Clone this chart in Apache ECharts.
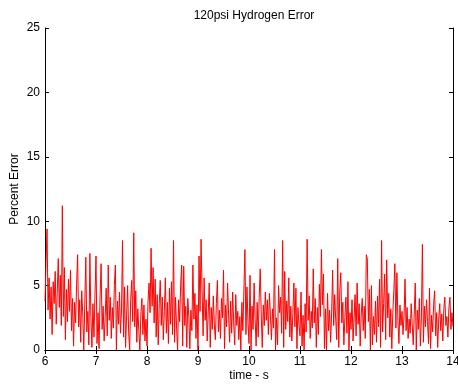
<!DOCTYPE html>
<html>
<head>
<meta charset="utf-8">
<script src="https://cdn.jsdelivr.net/npm/echarts@6/dist/echarts.min.js"></script>
<style>html,body{margin:0;padding:0;background:#fff}#c{width:458px;height:386px}</style>
</head>
<body>
<div id="c"></div>
<script>
const titleText = '120psi Hydrogen Error';
const xName = 'time - s';
const yName = 'Percent Error';
const xTicks = [6, 7, 8, 9, 10, 11, 12, 13, 14];
const yTicks = [0, 5, 10, 15, 20, 25];
const tStart = 6, tStep = 0.02;
// percent error, one value per sample (6.00 s ... 14.00 s)
const errSeg1 = [3.8,6.8,9.4,3.1,5.6,2.4,4.9,1.2,5.3,3.6,6.1,2.0,4.4,7.1,3.3,5.8,1.9,11.2,2.6,6.4,0.8,4.7,2.2,5.5,3.0];
const errSeg2 = [6.2,1.5,4.0,0.3,3.7,2.1,5.1,7.4,1.8,3.9,0.6,4.6,2.8,0.0,3.5,7.2,1.4,3.0,0.4,7.5,2.5,0.2,3.6,1.0,4.3];
const errSeg3 = [7.3,0.5,2.9,0.1,4.2,6.7,1.6,3.4,0.7,2.6,4.8,1.1,6.6,2.3,4.1,0.9,3.3,1.7,5.0,6.6,0.0,3.8,2.0,4.5,1.3];
const errSeg4 = [3.1,8.5,1.0,4.9,0.2,2.7,5.0,1.4,0.0,3.9,5.4,2.2,9.1,1.8,4.6,0.6,3.2,1.5,0.0,2.8,4.0,1.2,3.5,0.7,2.4];
const errSeg5 = [0.3,3.8,5.2,2.9,7.9,3.4,6.4,2.1,5.5,1.0,4.3,0.4,3.6,5.4,1.9,4.1,0.8,3.0,5.6,1.3,3.7,0.5,4.8,2.0,5.3];
const errSeg6 = [1.2,8.5,0.6,4.1,1.7,0.0,3.9,2.2,5.1,6.6,0.3,6.5,1.9,3.4,0.2,4.0,2.6,0.1,3.1,1.5,6.6,2.4,4.4,0.9,3.5];
const errSeg7 = [0.0,7.3,3.0,8.6,4.7,1.1,5.6,2.3,3.9,0.7,2.8,5.2,0.2,3.3,1.6,4.2,2.0,0.8,3.6,5.4,1.4,3.1,0.9,4.0,2.5];
const errSeg8 = [6.2,0.1,3.5,1.8,5.2,2.7,0.6,3.8,1.3,4.5,2.1,0.4,4.3,1.9,3.0,0.8,2.6,0.0,3.7,1.5,4.6,7.8,1.2,4.9,2.2];
const errSeg9 = [0.5,5.8,0.0,3.4,1.6,5.2,2.4,0.3,3.7,1.0,4.1,6.3,2.8,0.2,3.5,1.9,4.5,2.3,3.9,1.2,4.4,2.7,0.8,3.2,1.7];
const errSeg10 = [7.8,0.0,2.5,0.4,5.0,2.9,4.1,1.3,8.5,0.2,6.1,1.6,3.8,2.2,5.6,1.0,3.4,0.7,2.9,5.2,1.8,4.8,0.1,3.3,2.0];
const errSeg11 = [1.1,4.5,0.3,2.7,0.0,3.6,1.4,8.6,2.3,4.2,0.9,3.0,1.7,6.3,2.1,4.0,0.2,3.3,1.2,5.1,2.6,7.8,3.5,5.9,0.1];
const errSeg12 = [3.2,0.0,4.4,1.5,3.1,0.6,2.8,6.2,1.9,4.3,2.4,0.8,7.1,0.2,4.6,6.0,2.1,3.7,0.4,2.5,4.1,1.3,5.3,0.0,2.9];
const errSeg13 = [1.6,3.9,0.7,2.4,4.3,1.1,5.2,2.0,3.6,0.3,2.7,4.0,1.5,3.4,0.9,7.4,7.1,2.2,4.7,0.0,5.0,0.4,2.6,1.2,3.8];
const errSeg14 = [0.6,4.2,1.8,5.5,0.2,8.5,1.4,3.6,5.9,0.8,7.0,2.5,4.4,1.0,3.2,0.1,2.9,4.6,6.7,1.7,6.0,2.3,0.5,3.5,1.9];
const errSeg15 = [3.0,1.2,2.6,5.5,1.5,3.3,0.9,2.4,1.3,3.6,2.0,0.4,2.8,5.2,0.0,3.1,1.6,4.0,0.3,2.5,8.2,0.6,3.4,1.8,3.9];
const errSeg16 = [2.2,0.5,4.8,0.1,2.7,1.4,3.5,4.6,1.1,2.9,0.2,2.4,3.6,1.5,2.8,0.7,3.2,4.1,1.9,2.6,1.0,3.3,4.1,1.6,2.9,1.8];

const errValues = [].concat(errSeg1,errSeg2,errSeg3,errSeg4,errSeg5,errSeg6,errSeg7,errSeg8,
  errSeg9,errSeg10,errSeg11,errSeg12,errSeg13,errSeg14,errSeg15,errSeg16);
const seriesData = errValues.map((v, i) => [+(tStart + i * tStep).toFixed(2), v]);

const FONT = 'Liberation Sans';
const chart = echarts.init(document.getElementById('c'), null, {renderer: 'canvas'});
const axBase = {
  axisLine: {show: true, lineStyle: {color: '#000', width: 1}},
  axisTick: {show: true, inside: true, length: 4, lineStyle: {color: '#000'}},
  splitLine: {show: false}
};
chart.setOption({
  animation: false,
  backgroundColor: '#fff',
  title: {
    text: titleText, left: 249, top: 5, textAlign: 'center',
    textStyle: {fontFamily: FONT, fontSize: 12, fontWeight: 'normal', color: '#000'}
  },
  grid: {left: 45, right: 5, top: 28, bottom: 36, containLabel: false, outerBoundsMode: 'none'},
  xAxis: [
    Object.assign({}, axBase, {
      type: 'value', min: xTicks[0], max: xTicks[xTicks.length - 1], interval: 1,
      position: 'bottom',
      name: xName, nameLocation: 'middle', nameGap: 20, nameMoveOverlap: false,
      nameTextStyle: {fontFamily: FONT, fontSize: 12, color: '#000'},
      axisLabel: {fontFamily: FONT, fontSize: 12, color: '#000', margin: 6}
    }),
    Object.assign({}, axBase, {
      type: 'value', min: xTicks[0], max: xTicks[xTicks.length - 1], interval: 1,
      position: 'top', axisLabel: {show: false}
    })
  ],
  yAxis: [
    Object.assign({}, axBase, {
      type: 'value', min: yTicks[0], max: yTicks[yTicks.length - 1], interval: 5,
      position: 'left',
      name: yName, nameLocation: 'middle', nameGap: 24, nameRotate: 90, nameMoveOverlap: false,
      nameTextStyle: {fontFamily: FONT, fontSize: 12, color: '#000'},
      axisLabel: {fontFamily: FONT, fontSize: 12, color: '#000', margin: 5}
    }),
    Object.assign({}, axBase, {
      type: 'value', min: yTicks[0], max: yTicks[yTicks.length - 1], interval: 5,
      position: 'right', axisLabel: {show: false}
    })
  ],
  series: [{
    type: 'line', xAxisIndex: 0, yAxisIndex: 0,
    data: seriesData, showSymbol: false, symbol: 'none',
    lineStyle: {color: '#ff0000', width: 1},
    z: 1
  }]
});
</script>
</body>
</html>
